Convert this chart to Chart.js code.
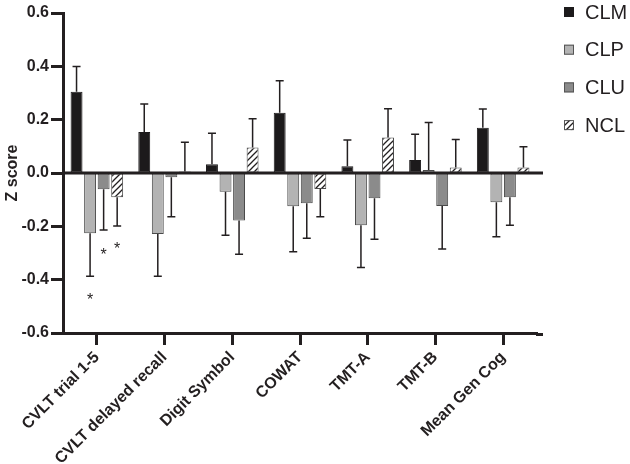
<!DOCTYPE html>
<html>
<head>
<meta charset="utf-8">
<script src="https://cdn.jsdelivr.net/npm/chart.js@4"></script>
<style>
  body { margin: 0; background: #fff; }
  #chart { display: block; }
</style>
</head>
<body>
<canvas id="chart" width="630" height="464"></canvas>
<script>
const categories = ["CVLT trial 1-5", "CVLT delayed recall", "Digit Symbol", "COWAT", "TMT-A", "TMT-B", "Mean Gen Cog"];
const seriesNames = ["CLM", "CLP", "CLU", "NCL"];

const clm = [0.305, 0.154, 0.033, 0.226, 0.025, 0.049, 0.170];
const clp = [-0.226, -0.229, -0.070, -0.125, -0.196, 0.011, -0.110];
const clu = [-0.061, -0.016, -0.178, -0.113, -0.095, -0.124, -0.091];
const ncl = [-0.091, 0.006, 0.096, -0.060, 0.133, 0.021, 0.021];

// one-sided error bars (drawn away from zero)
const clmErr = [0.094, 0.105, 0.116, 0.120, 0.099, 0.096, 0.070];
const clpErr = [0.161, 0.158, 0.163, 0.170, 0.158, 0.178, 0.129];
const cluErr = [0.153, 0.148, 0.127, 0.132, 0.153, 0.161, 0.105];
const nclErr = [0.108, 0.109, 0.107, 0.104, 0.108, 0.105, 0.077];

const yTicks = [-0.6, -0.4, -0.2, 0.0, 0.2, 0.4, 0.6];

// significance markers: [category index, series index, y value]
const stars = [[0, 1, -0.458], [0, 2, -0.289], [0, 3, -0.266]];

const FONT = "'Liberation Sans', Arial, sans-serif";
const INK = "#231f20";

function hatch() {
    const c = document.createElement("canvas");
    c.width = 6; c.height = 6;
    const g = c.getContext("2d");
    g.fillStyle = "#fff";
    g.fillRect(0, 0, 6, 6);
    g.strokeStyle = INK;
    g.lineWidth = 1.3;
    g.beginPath();
    g.moveTo(-1, 7); g.lineTo(7, -1);
    g.moveTo(-1, 1); g.lineTo(1, -1);
    g.moveTo(5, 7); g.lineTo(7, 5);
    g.stroke();
    return g.createPattern(c, "repeat");
}

const fills = ["#1c1a1b", "#b3b3b3", "#8b8b8b", hatch()];
const values = [clm, clp, clu, ncl];
const errors = [clmErr, clpErr, cluErr, nclErr];

const extras = {
    id: "extras",
    afterDatasetsDraw(chart) {
        const ctx = chart.ctx;
        const y = chart.scales.y;
        const area = chart.chartArea;
        ctx.save();
        // error bars
        ctx.strokeStyle = INK;
        ctx.lineWidth = 1.5;
        values.forEach((vals, s) => {
            const meta = chart.getDatasetMeta(s);
            vals.forEach((v, i) => {
                const bar = meta.data[i];
                const end = v >= 0 ? v + errors[s][i] : v - errors[s][i];
                const y0 = y.getPixelForValue(v);
                const y1 = y.getPixelForValue(end);
                ctx.beginPath();
                ctx.moveTo(bar.x, y0);
                ctx.lineTo(bar.x, y1);
                ctx.moveTo(bar.x - 4, y1);
                ctx.lineTo(bar.x + 4, y1);
                ctx.stroke();
            });
        });
        // zero line and axis extension
        ctx.lineWidth = 3;
        ctx.beginPath();
        const z = y.getPixelForValue(0);
        ctx.moveTo(area.left, z);
        ctx.lineTo(area.right + 6, z);
        ctx.moveTo(area.right - 1, area.bottom + 1.5);
        ctx.lineTo(area.right + 6, area.bottom + 1.5);
        ctx.stroke();
        // asterisks
        ctx.fillStyle = INK;
        ctx.font = "16px " + FONT;
        ctx.textAlign = "center";
        ctx.textBaseline = "alphabetic";
        stars.forEach(([i, s, v]) => {
            const bar = chart.getDatasetMeta(s).data[i];
            ctx.fillText("*", bar.x, y.getPixelForValue(v) + 10);
        });
        // legend
        ctx.font = "20px " + FONT;
        ctx.textAlign = "left";
        ctx.textBaseline = "middle";
        seriesNames.forEach((name, s) => {
            const ly = 12 + s * 37.7;
            ctx.fillStyle = fills[s];
            ctx.fillRect(564, ly - 5, 10, 10);
            ctx.strokeStyle = s === 0 ? fills[0] : "#555";
            ctx.lineWidth = 1;
            ctx.strokeRect(564.5, ly - 4.5, 9, 9);
            ctx.fillStyle = INK;
            ctx.fillText(name, 585, ly + 1);
        });
        ctx.restore();
    }
};

new Chart(document.getElementById("chart"), {
    type: "bar",
    data: {
        labels: categories,
        datasets: seriesNames.map((name, s) => ({
            label: name,
            data: values[s],
            backgroundColor: fills[s],
            borderColor: s === 0 ? fills[0] : "#4a4a4a",
            borderWidth: 1,
            borderSkipped: false,
            categoryPercentage: 0.8,
            barPercentage: 0.88,
        })),
    },
    options: {
        responsive: false,
        animation: false,
        layout: { padding: { top: 13, right: 93, left: 0, bottom: 0 } },
        plugins: {
            legend: { display: false },
            tooltip: { enabled: false },
        },
        scales: {
            x: {
                afterFit: (scale) => { scale.height = 131; },
                grid: {
                    offset: false,
                    drawOnChartArea: false,
                    tickLength: 12,
                    tickWidth: 3,
                    tickColor: INK,
                },
                border: { color: INK, width: 3 },
                ticks: {
                    maxRotation: 45,
                    minRotation: 45,
                    padding: 3,
                    color: INK,
                    font: { family: FONT, size: 16, weight: "bold" },
                },
            },
            y: {
                min: -0.6,
                max: 0.6,
                afterFit: (scale) => { scale.width = 63; },
                afterBuildTicks: (scale) => { scale.ticks = yTicks.map((v) => ({ value: v })); },
                grid: {
                    drawOnChartArea: false,
                    tickLength: 12,
                    tickWidth: 3,
                    tickColor: INK,
                },
                border: { color: INK, width: 3 },
                ticks: {
                    padding: 2,
                    color: INK,
                    font: { family: FONT, size: 16, weight: "bold" },
                    callback: (v) => v.toFixed(1),
                },
                title: {
                    display: true,
                    text: "Z score",
                    color: INK,
                    padding: { top: 3, bottom: 0 },
                    font: { family: FONT, size: 16, weight: "bold" },
                },
            },
        },
    },
    plugins: [extras],
});
</script>
</body>
</html>
